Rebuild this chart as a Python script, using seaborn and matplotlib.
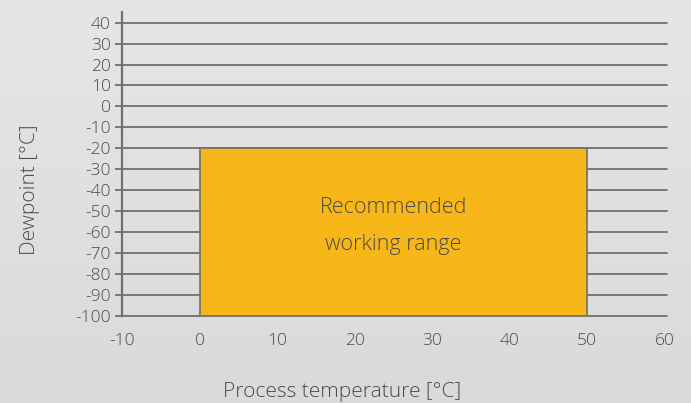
import numpy as np
import matplotlib
matplotlib.use("Agg")
import matplotlib.pyplot as plt
import seaborn as sns

# Axis ticks
temp_ticks = [-10, 0, 10, 20, 30, 40, 50, 60]
dew_ticks = [40, 30, 20, 10, 0, -10, -20, -30, -40, -50, -60, -70, -80, -90, -100]

# Recommended working range (process temperature / dewpoint)
range_temp = [0, 50]
range_dew = [-100, -20]
range_label = "Recommended\nworking range"

sns.set_style("white")
plt.rcParams["font.family"] = ["Open Sans", "DejaVu Sans"]
plt.rcParams["font.weight"] = "light"
plt.rcParams["axes.labelweight"] = "light"
plt.rcParams["axes.unicode_minus"] = False

text_col = "#4a4a4a"
line_col = "#707070"

fig = plt.figure(figsize=(6.91, 4.03), dpi=100)

# background gradient
bg = fig.add_axes([0, 0, 1, 1], zorder=-10)
grad = np.linspace(0, 1, 256).reshape(-1, 1)
cmap = matplotlib.colors.LinearSegmentedColormap.from_list("bg", ["#e7e6e4", "#dcdad9"])
bg.imshow(grad, aspect="auto", cmap=cmap, extent=[0, 1, 0, 1])
bg.set_axis_off()

ax = fig.add_axes([0.1766, 0.2159, 0.785, 0.754])
ax.patch.set_alpha(0)

# grid lines at each dewpoint tick
for y in dew_ticks:
    ax.axhline(y, color=line_col, lw=1.3, zorder=1, xmin=0, xmax=1.004, clip_on=False)

# working range box
ax.bar(range_temp[0], range_dew[1] - range_dew[0], width=range_temp[1] - range_temp[0],
       bottom=range_dew[0], align="edge", color="#f8b718", edgecolor="#6e6e6e",
       linewidth=1.2, zorder=2)
ax.text(np.mean(range_temp), -57, range_label, ha="center", va="center",
        fontsize=15.5, color=text_col, linespacing=2.0, zorder=3)

ax.set_xlim(-10, 60)
ax.set_ylim(-100, 45)
ax.set_xticks(temp_ticks)
ax.set_yticks(dew_ticks)
ax.tick_params(axis="y", length=5, width=1.3, color=line_col, labelcolor=text_col,
               labelsize=12.5, pad=3, direction="out", left=True)
ax.tick_params(axis="x", length=0, labelcolor=text_col, labelsize=12.5, pad=12)

for s in ["top", "right", "bottom"]:
    ax.spines[s].set_visible(False)
ax.spines["left"].set_color(line_col)
ax.spines["left"].set_linewidth(1.6)

ax.set_xlabel("Process temperature [°C]", fontsize=15, color=text_col)
ax.set_ylabel("Dewpoint [°C]", fontsize=15, color=text_col)
# label placement as in the original layout (slightly off-centre)
ax.xaxis.set_label_coords(0.405, -0.216)
ax.yaxis.set_label_coords(-0.152, 0.415)

fig.savefig("out.png", dpi=100)
